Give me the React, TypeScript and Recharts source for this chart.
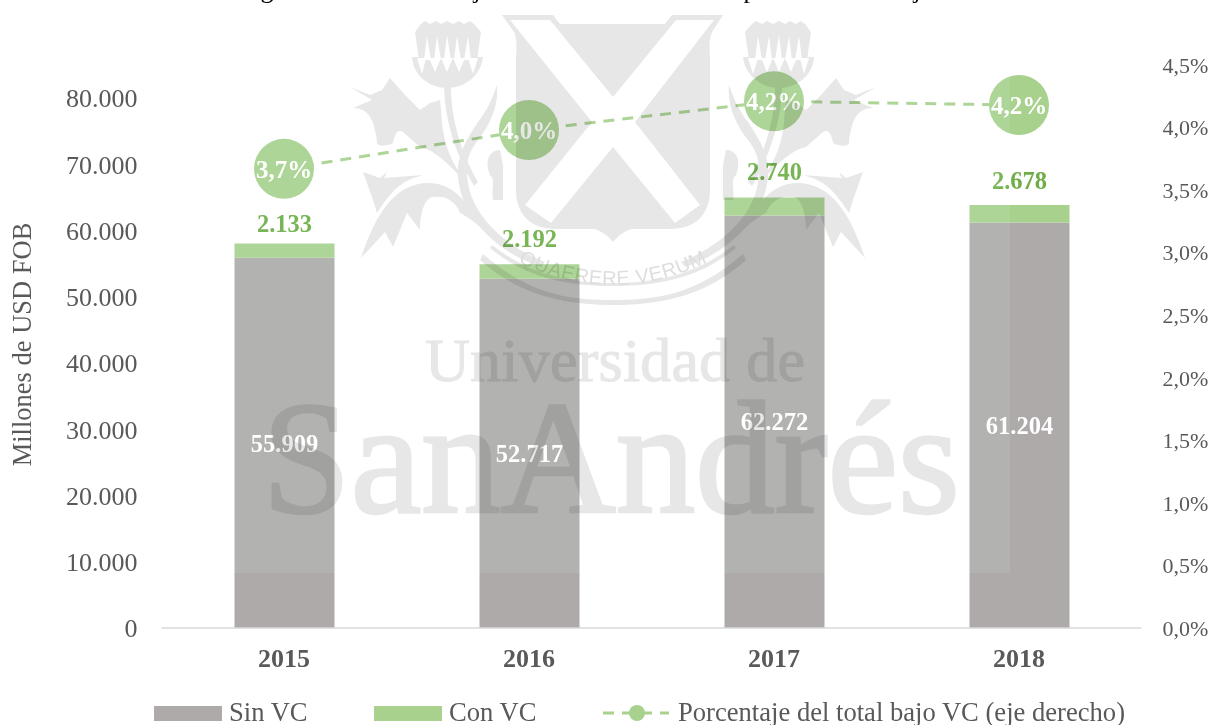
import React from 'react';
import {
  ComposedChart,
  Bar,
  Line,
  XAxis,
  YAxis,
  Legend,
  LabelList,
} from 'recharts';

const years = ['2015', '2016', '2017', '2018'];
const sinVC = [55909, 52717, 62272, 61204];
const conVC = [2133, 2192, 2740, 2678];
const pctVC = [3.67, 3.98, 4.21, 4.18];
const leftTicks = [0, 10000, 20000, 30000, 40000, 50000, 60000, 70000, 80000];
const rightTicks = [0, 0.5, 1, 1.5, 2, 2.5, 3, 3.5, 4, 4.5];

const data = years.map((year, i) => ({
  year,
  sin: sinVC[i],
  con: conVC[i],
  pct: pctVC[i],
}));

const GREY = '#aeaaaa';
const GREEN = '#a9d18e';
const DARK_GREEN = '#70ad47';
const TEXT = '#595959';
const MARK = '#e7e7e7';
const FONT = '"Liberation Serif", serif';

// how far each "Con VC" label sits above its bar
const conLabelLift = [20, 26, 26, 24];

const thousands = (v: number) => String(v).replace(/\B(?=(\d{3})+$)/g, '.');
const comma1 = (v: number) => v.toFixed(1).replace('.', ',');

const ConLabel = ({ x, y, width, value, index }: any) => (
  <text
    x={x + width / 2}
    y={y - conLabelLift[index]}
    textAnchor="middle"
    dominantBaseline="central"
    fill={DARK_GREEN}
    fontFamily={FONT}
    fontSize={24.5}
    fontWeight={700}
  >
    {thousands(value)}
  </text>
);

const ChartLegend = () => (
  <svg width={1213} height={37} style={{ display: 'block' }}>
    <g fontFamily={FONT} fontSize={26.6} fill={TEXT}>
      <rect x={154} y={18} width={68} height={15} fill={GREY} />
      <text x={229} y={33}>Sin VC</text>
      <rect x={374} y={18} width={68} height={15} fill={GREEN} />
      <text x={449} y={33}>Con VC</text>
      <line x1={603} x2={669} y1={25} y2={25} stroke={GREEN} strokeWidth={3} strokeDasharray="11 8" />
      <circle cx={637} cy={25} r={8} fill={GREEN} />
      <text x={678} y={33}>Porcentaje del total bajo VC (eje derecho)</text>
    </g>
  </svg>
);

// left half of the crest; it is mirrored round the shield axis
const Thistle = () => (
  <g fill={MARK}>
    <path d="M415 32 L421 24 L425 21 L430 24 L436 21 L441 24 L447 21 L453 24 L459 21 L464 24 L470 21 L474 24 L481 32 L477 60 L419 60 Z" />
    <path d="M412 57 C413 76 430 88 447 88 C464 88 481 76 483 57 Z" />
    <g fill="#ffffff">
      <path d="M427 36 L424 60 L431 60 Z" />
      <path d="M437 36 L434 60 L441 60 Z" />
      <path d="M447 35 L444 60 L451 60 Z" />
      <path d="M457 36 L454 60 L461 60 Z" />
      <path d="M468 36 L464 60 L471 60 Z" />
      <path d="M417 58 L426 58 L422 74 Z" />
      <path d="M429 58 L441 58 L435 72 Z" />
      <path d="M441 58 L453 58 L447 72 Z" />
      <path d="M453 58 L465 58 L459 72 Z" />
      <path d="M468 58 L478 58 L473 74 Z" />
    </g>
    <path d="M350 87 L370 95 L382 90 L390 78 L405 95 L420 110 L430 103 L440 100 C442 115 441 125 445 140 C450 160 458 170 466 183 C450 165 435 150 420 147 L403 132 C396 128 394 138 393 143 C385 147 375 147 377 140 C374 125 372 108 353 108 L372 100 Z" />
    <path d="M444 88 L451 88 C451 120 462 155 478 182 L474 186 C456 155 445 122 444 88 Z" />
    <path d="M363 172 L380 178 L387 172 L384 178 L423 175 C405 180 395 185 377 213 L373 200 Z" />
    <path d="M361 258 C375 215 395 182 430 183 C455 184 470 205 483 230 C475 222 465 215 460 213 C455 200 445 196 433 197 C424 198 420 215 420 230 L407 213 L393 247 L385 232 Z" />
    <path d="M497 85 C499 105 490 125 478 140 C468 153 464 165 469 188 C475 213 498 243 545 262 L541 267 C492 250 462 215 458 178 C456 160 464 142 478 122 C486 112 492 100 497 85 Z" />
    <path d="M500 150 C490 150 484 160 490 175 C496 180 491 190 493 200 L503 200 L503 165 Z" />
    <path d="M483 254 C530 295 570 300 613 300 L613 305 C565 305 520 296 480 260 Z" />
    <path d="M492 245 C530 275 570 283 613 283 L613 286 C565 286 525 277 490 248 Z" />
  </g>
);

const Watermark = () => (
  <svg
    width={1213}
    height={725}
    style={{ position: 'absolute', left: 0, top: 0, mixBlendMode: 'multiply', pointerEvents: 'none' }}
  >
    <Thistle />
    <g transform="translate(1226 0) scale(-1 1)">
      <Thistle />
    </g>
    <path
      d="M502 15 L553 15 L560 24 L665 24 L672 15 L723 15 L712 32 C708 42 710 50 710 60 L710 190 C710 215 695 229 670 229 L632 229 C624 231 618 236 613 242 C608 236 602 231 594 229 L556 229 C531 229 516 215 516 190 L516 60 C516 50 518 42 514 32 Z"
      fill={MARK}
    />
    <path
      d="M510 20 L550 20 L613 97 L676 20 L714 20 L635 122 L700 205 L675 223 L613 147 L551 223 L525 205 L592 122 Z"
      fill="#ffffff"
    />
    <path id="motto" d="M518 262 Q613 308 708 262" fill="none" />
    <text fontFamily='"Liberation Sans", sans-serif' fontSize={20} fill="#dedede" letterSpacing={0.5}>
      <textPath href="#motto" startOffset="50%" textAnchor="middle">QUAERERE VERUM</textPath>
    </text>
    <text x={425} y={381} fontFamily={FONT} fontSize={62} fill={MARK} stroke={MARK} strokeWidth={1} textLength={380} lengthAdjust="spacing">
      Universidad de
    </text>
    <text x={262} y={512} fontFamily={FONT} fontSize={160} fill={MARK} stroke={MARK} strokeWidth={2.5} textLength={698} lengthAdjust="spacing">
      SanAndrés
    </text>
  </svg>
);

const App = () => (
  <div style={{ position: 'absolute', left: 0, top: 0, width: 1213, height: 725, overflow: 'hidden', background: '#fff' }}>
    <ComposedChart
      width={1213}
      height={725}
      data={data}
      margin={{ top: 65, right: 0, bottom: 0, left: 0 }}
      barSize={100}
    >
      <XAxis
        dataKey="year"
        height={60}
        axisLine={{ stroke: '#d9d9d9', strokeWidth: 1.5 }}
        tickLine={false}
        tickSize={0}
        tickMargin={21}
        tick={{ fill: TEXT, fontFamily: FONT, fontSize: 26, fontWeight: 700 }}
      />
      <YAxis
        yAxisId="left"
        width={161.5}
        domain={[0, 85000]}
        ticks={leftTicks}
        interval={0}
        axisLine={false}
        tickLine={false}
        tickSize={0}
        tickMargin={24}
        tickFormatter={thousands}
        tick={{ fill: TEXT, fontFamily: FONT, fontSize: 26 }}
        label={{
          value: 'Millones de USD FOB',
          angle: -90,
          position: 'insideLeft',
          offset: 22,
          dy: -2,
          style: { textAnchor: 'middle', fill: TEXT, fontFamily: FONT, fontSize: 26.5 },
        }}
      />
      <YAxis
        yAxisId="right"
        orientation="right"
        width={71.5}
        domain={[0, 4.5]}
        ticks={rightTicks}
        interval={0}
        axisLine={false}
        tickLine={false}
        tickSize={0}
        tickMargin={21}
        tickFormatter={(v: number) => `${comma1(v)}%`}
        tick={{ fill: TEXT, fontFamily: FONT, fontSize: 22 }}
      />
      <Legend content={<ChartLegend />} />
      <Bar yAxisId="left" dataKey="sin" name="Sin VC" stackId="a" fill={GREY} isAnimationActive={false}>
        <LabelList
          dataKey="sin"
          position="center"
          formatter={thousands}
          fill="#ffffff"
          fontFamily={FONT}
          fontSize={24.5}
          fontWeight={700}
        />
      </Bar>
      <Bar yAxisId="left" dataKey="con" name="Con VC" stackId="a" fill={GREEN} isAnimationActive={false}>
        <LabelList dataKey="con" content={ConLabel} />
      </Bar>
      <Line
        yAxisId="right"
        dataKey="pct"
        name="Porcentaje del total bajo VC (eje derecho)"
        stroke={GREEN}
        strokeWidth={3}
        strokeDasharray="11 8"
        dot={{ r: 30, fill: GREEN, stroke: 'none', fillOpacity: 1 }}
        isAnimationActive={false}
      >
        <LabelList
          dataKey="pct"
          position="center"
          formatter={(v: number) => `${comma1(v)}%`}
          fill="#ffffff"
          fontFamily={FONT}
          fontSize={25}
          fontWeight={700}
        />
      </Line>
    </ComposedChart>
    {/* the scan's lighter panel: screen leaves white paper untouched */}
    <div
      style={{
        position: 'absolute',
        left: 200,
        top: 0,
        width: 810,
        height: 573,
        background: '#0d1814',
        mixBlendMode: 'screen',
        pointerEvents: 'none',
      }}
    />
    <Watermark />
    {/* only the bottoms of the cut-off title are on the page */}
    <svg width={1213} height={12} style={{ position: 'absolute', left: 0, top: 0 }}>
      <g fontFamily={FONT} fontSize={26} fill="#000000" textAnchor="middle">
        <text x={267} y={-2}>g</text>
        <text x={477} y={-2}>j</text>
        <text x={750} y={-2}>p</text>
        <text x={917} y={-2}>j</text>
      </g>
    </svg>
  </div>
);

export default App;
